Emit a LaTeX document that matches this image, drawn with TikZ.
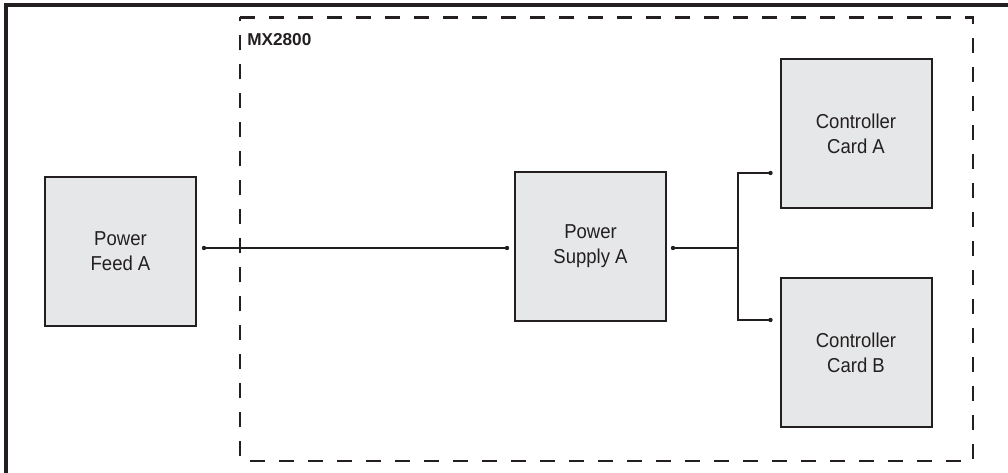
\documentclass[tikz,border=0pt]{standalone}
\usepackage{fontspec}
\setmainfont{Liberation Sans}
\newfontfamily\lblfont[FakeStretch=0.92]{Liberation Sans}
\usetikzlibrary{calc}
\definecolor{boxfill}{HTML}{E6E7E8}
\definecolor{ink}{HTML}{231F20}
\begin{document}
\begin{tikzpicture}[x=0.75pt,y=-0.75pt,
  blk/.style={draw=ink, line width=1.5pt, fill=boxfill, minimum width=113.25pt,
    minimum height=111.75pt, inner sep=0pt, align=center, text=ink,
    font=\lblfont\fontsize{15.1}{18.75}\selectfont},
  wire/.style={draw=ink, line width=0.8pt},
  frame/.style={draw=ink, line width=2.3pt},
  encl/.style={draw=ink, line width=1.6pt, dash pattern=on 11.25pt off 10.5pt},
  dotc/.style={fill=ink}]
\useasboundingbox (0,0) rectangle (1008,473);
% outer frame (cropped at right and bottom)
\draw[frame] (6,5) rectangle (1040,500);
% enclosure
\draw[encl] (240,17.5) -- (973,17.5) -- (973,461) -- (240,461) -- cycle;
\node[anchor=west, inner sep=0pt, text=ink, font=\bfseries\fontsize{12.9}{15}\selectfont] (mx) at (247,40) {MX2800};
% blocks
\node[blk] (feed) at (120.5,251.5) {Power\\Feed A};
\node[blk] (supply) at (590.5,246.5) {Power\\Supply A};
\node[blk] (carda) at (856,134) {Controller\\Card A};
\node[blk] (cardb) at (856,352.5) {Controller\\Card B};
% connectors
\coordinate (fd) at ($(feed.east)+(7,-3.5)$);
\coordinate (sl) at ($(supply.west)+(-7,1.5)$);
\coordinate (sr) at ($(supply.east)+(6,1.5)$);
\coordinate (jn) at ($(sr)+(65,0)$);
\coordinate (ca) at ($(carda.west)+(-9,39)$);
\coordinate (cb) at ($(cardb.west)+(-9,-32.5)$);
\draw[wire] (fd) -- (sl);
\draw[wire] (sr) -- (jn);
\draw[wire] (jn) |- (ca);
\draw[wire] (jn) |- (cb);
\foreach \p in {fd,sl,sr,ca,cb} \fill[dotc] (\p) circle[radius=2.2];
\end{tikzpicture}
\end{document}
